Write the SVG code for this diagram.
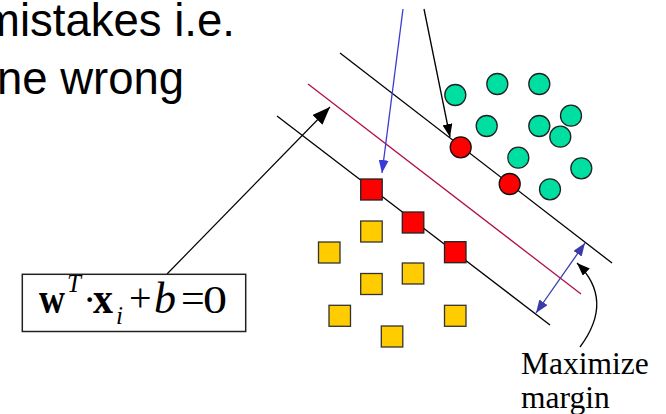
<svg xmlns="http://www.w3.org/2000/svg" width="666" height="414" viewBox="0 0 666 414">
<style>
.title{font-family:"Liberation Sans",Arial,sans-serif;font-size:45.5px;fill:#000}
.lbl{font-family:"Liberation Serif","Times New Roman",serif;font-size:31.5px;fill:#000}
.eq{font-family:"Liberation Serif","Times New Roman",serif;fill:#000}
.hp{fill:none;stroke:#000;stroke-width:1.3}
.sq-y{fill:#FFCC00;stroke:#333;stroke-width:1.3}
.sq-r{fill:#FF0000;stroke:#222;stroke-width:1.3}
.c-g{fill:#00DFA2;stroke:#222;stroke-width:1.3}
.c-r{fill:#FF0000;stroke:#111;stroke-width:1.3}
</style>
<defs>
<marker id="ahBig" markerUnits="userSpaceOnUse" markerWidth="20" markerHeight="14" refX="18" refY="7" orient="auto"><path d="M0,0 L18,7 L0,14 z" fill="#000"/></marker>
<marker id="ahBlk" markerUnits="userSpaceOnUse" markerWidth="14" markerHeight="10" refX="13" refY="5" orient="auto"><path d="M0,0 L13,5 L0,10 z" fill="#000"/></marker>
<marker id="ahBlue" markerUnits="userSpaceOnUse" markerWidth="14" markerHeight="10" refX="13" refY="5" orient="auto"><path d="M0,0 L13,5 L0,10 z" fill="#3A3AD8"/></marker>
<marker id="ahNavy" markerUnits="userSpaceOnUse" markerWidth="14" markerHeight="10" refX="13" refY="5" orient="auto-start-reverse"><path d="M0,0 L13,5 L0,10 z" fill="#3B3BAA"/></marker>
</defs>
<rect width="666" height="414" fill="#fff"/>
<g id="title">
<text class="title" x="-18" y="36">mistakes i.e.</text>
<text class="title" x="-3" y="94">ne wrong</text>
</g>
<g id="hyperplanes">
<line class="hp" x1="340" y1="53" x2="612" y2="263"/>
<line x1="308" y1="84" x2="581" y2="294" stroke="#B01048" stroke-width="1.3"/>
<line class="hp" x1="277" y1="116" x2="550" y2="325"/>
</g>
<g id="connectors">
<line x1="167" y1="274" x2="330" y2="107" stroke="#000" stroke-width="1.2" marker-end="url(#ahBig)"/>
<line x1="424" y1="9" x2="450" y2="137" stroke="#000" stroke-width="1.3" marker-end="url(#ahBlk)"/>
<line x1="403" y1="9" x2="382" y2="173" stroke="#3A3AD8" stroke-width="1.3" marker-end="url(#ahBlue)"/>
<line x1="536" y1="313" x2="585" y2="243" stroke="#3B3BAA" stroke-width="1.3" marker-start="url(#ahNavy)" marker-end="url(#ahNavy)"/>
<path d="M580,347 Q615,300 577,263" fill="none" stroke="#000" stroke-width="1.3" marker-end="url(#ahBlk)"/>
</g>
<g id="class-neg">
<rect class="sq-y" x="318.5" y="242" width="21.5" height="21"/>
<rect class="sq-y" x="360.7" y="221" width="21.5" height="21"/>
<rect class="sq-y" x="360.7" y="273.5" width="21.5" height="21"/>
<rect class="sq-y" x="402.3" y="263" width="21.5" height="21"/>
<rect class="sq-y" x="329" y="305.3" width="21.5" height="21"/>
<rect class="sq-y" x="381.3" y="326" width="21.5" height="21"/>
<rect class="sq-y" x="444.5" y="305.3" width="21.5" height="21"/>
<rect class="sq-r" x="360.7" y="179" width="21.5" height="21"/>
<rect class="sq-r" x="402.3" y="212" width="21.5" height="21"/>
<rect class="sq-r" x="444.5" y="241.7" width="21.5" height="21"/>
</g>
<g id="class-pos">
<circle class="c-g" cx="455.3" cy="95" r="10.5"/>
<circle class="c-g" cx="497.3" cy="84" r="10.5"/>
<circle class="c-g" cx="539.3" cy="84" r="10.5"/>
<circle class="c-g" cx="571" cy="115.7" r="10.5"/>
<circle class="c-g" cx="486.7" cy="126" r="10.5"/>
<circle class="c-g" cx="539.3" cy="126" r="10.5"/>
<circle class="c-g" cx="560.3" cy="136.7" r="10.5"/>
<circle class="c-g" cx="518.3" cy="157.7" r="10.5"/>
<circle class="c-g" cx="581.3" cy="168.3" r="10.5"/>
<circle class="c-g" cx="550" cy="189.3" r="10.5"/>
<circle class="c-r" cx="460.7" cy="147.3" r="10.5"/>
<circle class="c-r" cx="509.7" cy="184" r="10.5"/>
</g>
<g id="equation">
<rect x="22.3" y="274.3" width="223.4" height="57.2" fill="#fff" stroke="#222" stroke-width="1.5"/>
<text class="eq" font-size="45" x="39" y="313" font-weight="bold" textLength="26" lengthAdjust="spacingAndGlyphs">w</text>
<text class="eq" font-size="25" x="67" y="292" font-style="italic">T</text>
<text class="eq" font-size="40" x="83" y="313">·</text>
<text class="eq" font-size="45" x="93" y="313" font-weight="bold" textLength="20" lengthAdjust="spacingAndGlyphs">x</text>
<text class="eq" font-size="25" x="116" y="324" font-style="italic">i</text>
<text class="eq" font-size="40" x="129" y="311">+</text>
<text class="eq" font-size="44" x="154" y="313" font-style="italic">b</text>
<text class="eq" font-size="42" x="181" y="312">=</text>
<text class="eq" font-size="40" x="203" y="313" textLength="24" lengthAdjust="spacingAndGlyphs">0</text>
</g>
<g id="label-margin">
<text class="lbl" x="521" y="374">Maximize</text>
<text class="lbl" x="521" y="408">margin</text>
</g>
</svg>
